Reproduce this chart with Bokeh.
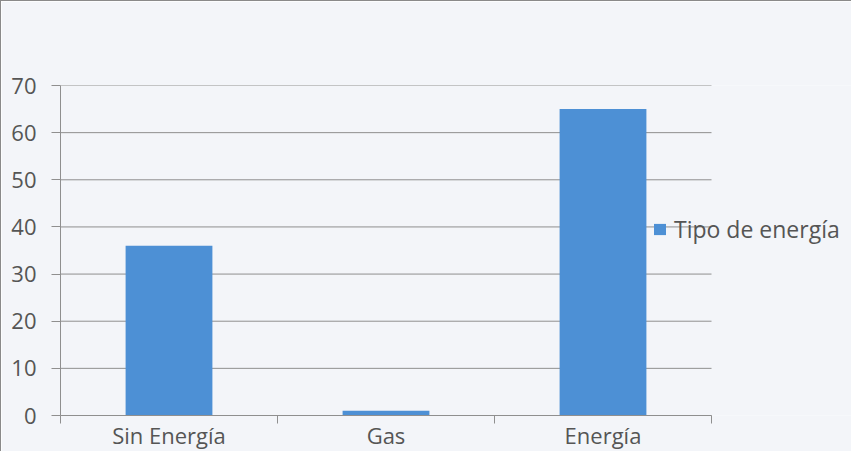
from bokeh.plotting import figure
from bokeh.models import Range1d, FixedTicker, Legend, LegendItem
from bokeh.embed import file_html
from bokeh.resources import INLINE

categories = ["Sin Energía", "Gas", "Energía"]
values = [36, 1, 65]
y_ticks = [0, 10, 20, 30, 40, 50, 60, 70]
series_name = "Tipo de energía"

BG = "#f3f5f9"
GRID = "#8f8f8f"
TXT = "#555555"
BAR = "#4d90d5"
FONT = "Open Sans"

W, H = 851, 451
LEFT, TOP, BOTTOM = 59, 84, 34
PLOT_W = 651                      # width of the category area in px
frame_w = W - LEFT
n = len(categories)
x_end = n * frame_w / PLOT_W      # leave room on the right for the legend

p = figure(width=W, height=H, output_backend="svg", toolbar_location=None,
           x_range=Range1d(0, x_end), y_range=Range1d(0, y_ticks[-1]),
           min_border_left=LEFT, min_border_right=0, min_border_top=TOP, min_border_bottom=BOTTOM)
p.styles = {"border-left": "1px solid #8a8a8a", "border-top": "1px solid #8a8a8a"}
p.background_fill_color = BG
p.border_fill_color = BG
p.outline_line_color = None

# horizontal gridlines limited to the category area
p.segment(x0=[0] * len(y_ticks), x1=[n] * len(y_ticks), y0=y_ticks, y1=y_ticks,
          line_color=GRID, line_width=1, level="underlay")

xs = [i + 0.5 for i in range(n)]
r = p.vbar(x=xs, top=values, width=0.4, bottom=0, fill_color=BAR, line_color=None)

# x axis
p.xaxis.bounds = (0, n)
p.xaxis.ticker = FixedTicker(ticks=xs, minor_ticks=list(range(n + 1)))
p.xaxis.major_label_overrides = {x: c for x, c in zip(xs, categories)}
p.xaxis.major_tick_out = 0
p.xaxis.major_tick_in = 0
p.xaxis.minor_tick_out = 8
p.xaxis.minor_tick_in = 0
p.xaxis.minor_tick_line_color = GRID
p.xaxis.axis_line_color = GRID
p.xaxis.major_label_standoff = -4
p.xaxis.major_label_text_font = FONT
p.xaxis.major_label_text_font_size = "22px"
p.xaxis.major_label_text_color = TXT

# y axis
p.yaxis.ticker = FixedTicker(ticks=y_ticks)
p.yaxis.major_tick_out = 9
p.yaxis.major_tick_in = 0
p.yaxis.minor_tick_out = 0
p.yaxis.minor_tick_in = 0
p.yaxis.major_tick_line_color = GRID
p.yaxis.axis_line_color = GRID
p.yaxis.major_label_standoff = 15
p.yaxis.major_label_text_font = FONT
p.yaxis.major_label_text_font_size = "22px"
p.yaxis.major_label_text_color = TXT

p.xgrid.visible = False
p.ygrid.visible = False

legend = Legend(items=[LegendItem(label=series_name, renderers=[r])],
                location=(592, 170), orientation="vertical",
                glyph_width=15, glyph_height=14, label_standoff=7,
                padding=0, margin=0, spacing=0,
                border_line_color=None, background_fill_alpha=0,
                label_text_font=FONT, label_text_font_size="23px",
                label_text_color=TXT)
p.add_layout(legend, "center")

open("out.html", "w").write(file_html(p, INLINE))
